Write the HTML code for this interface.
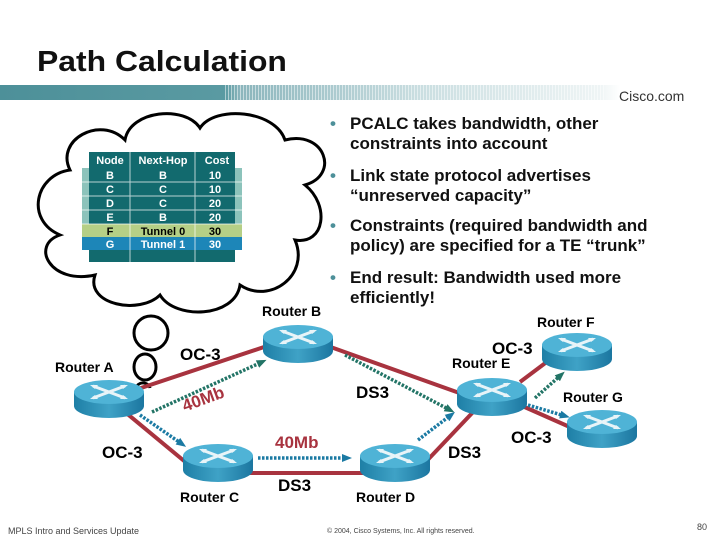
<!DOCTYPE html>
<html><head><style>
body{margin:0;width:720px;height:540px;overflow:hidden;background:#fff;font-family:"Liberation Sans",Arial,sans-serif;position:relative}
.t{position:absolute;white-space:nowrap}
.b{font-weight:bold}
</style></head><body>
<div class="t b" style="left:37px;top:46px;font-size:29px;color:#111;transform:scaleX(1.1);transform-origin:0 0">Path Calculation</div>
<div style="position:absolute;left:0;top:85px;width:720px;height:15px;background:linear-gradient(90deg,#4d9099 0,#5a9aa2 225px,rgba(90,150,160,0.7) 240px,rgba(150,190,195,0.5) 420px,rgba(200,220,222,0.3) 600px,#fff 620px)"></div>
<div style="position:absolute;left:225px;top:85px;width:380px;height:15px;background:repeating-linear-gradient(90deg,rgba(255,255,255,0.5) 0 1px,transparent 1px 3px)"></div>
<div class="t" style="left:619px;top:88px;font-size:14px;color:#333">Cisco.com</div>

<svg width="720" height="540" style="position:absolute;left:0;top:0">
<g fill="#fff" stroke="#000" stroke-width="3">
<path d="M70,170 C55,140 100,115 125,140 C130,110 185,105 200,128 C215,105 275,110 285,140 C325,130 340,175 305,185 C330,205 325,245 295,240 C310,275 270,305 240,285 C235,318 175,320 160,295 C140,315 85,305 95,275 C50,285 30,245 60,235 C25,220 35,175 70,170 Z"/>
</g>
<g fill="none" stroke="#000" stroke-width="3">
<ellipse cx="151" cy="333" rx="17" ry="17"/>
<ellipse cx="145" cy="367" rx="11" ry="13"/>
</g>
<path d="M137,386 a7,6 0 0 1 13,2" fill="none" stroke="#000" stroke-width="3"/>
<!-- table -->
<rect x="82" y="168" width="160" height="56" fill="#8cc3bb"/>
<rect x="89" y="152" width="146" height="110" fill="#126a6e"/>
<rect x="82" y="224" width="160" height="13" fill="#b5cf86"/>
<rect x="82" y="237" width="160" height="13" fill="#1d86b8"/>
<g stroke="#fff" stroke-width="1" opacity="0.7">
<line x1="130" y1="152" x2="130" y2="262"/><line x1="195" y1="152" x2="195" y2="262"/>
<line x1="82" y1="182" x2="242" y2="182"/><line x1="82" y1="196" x2="242" y2="196"/><line x1="82" y1="210" x2="242" y2="210"/><line x1="82" y1="224" x2="242" y2="224"/>
</g>
<g font-family="Liberation Sans,Arial,sans-serif" font-size="11" font-weight="bold" fill="#fff" text-anchor="middle">
<text x="110" y="164">Node</text><text x="163" y="164">Next-Hop</text><text x="217" y="164">Cost</text>
<text x="110" y="179">B</text><text x="163" y="179">B</text><text x="215" y="179">10</text>
<text x="110" y="193">C</text><text x="163" y="193">C</text><text x="215" y="193">10</text>
<text x="110" y="207">D</text><text x="163" y="207">C</text><text x="215" y="207">20</text>
<text x="110" y="221">E</text><text x="163" y="221">B</text><text x="215" y="221">20</text>
<text x="110" y="235" fill="#000">F</text><text x="163" y="235" fill="#000">Tunnel 0</text><text x="215" y="235" fill="#000">30</text>
<text x="110" y="248">G</text><text x="163" y="248">Tunnel 1</text><text x="215" y="248">30</text>
</g>
<!-- links -->
<g stroke="#a8333f" stroke-width="4">
<line x1="135" y1="390" x2="270" y2="345"/>
<line x1="125" y1="412" x2="195" y2="470"/>
<line x1="325" y1="345" x2="465" y2="395"/>
<line x1="245" y1="473" x2="365" y2="473"/>
<line x1="420" y1="468" x2="475" y2="410"/>
<line x1="520" y1="382" x2="552" y2="358"/>
<line x1="520" y1="405" x2="572" y2="428"/>
</g>
<defs>
<marker id="mg" markerUnits="userSpaceOnUse" markerWidth="10" markerHeight="10" refX="5" refY="5" orient="auto"><path d="M0,1L10,5L0,9Z" fill="#227466"/></marker>
<marker id="mb" markerUnits="userSpaceOnUse" markerWidth="10" markerHeight="10" refX="5" refY="5" orient="auto"><path d="M0,1L10,5L0,9Z" fill="#1b7aa3"/></marker>
</defs>
<g stroke-width="3.5" stroke-dasharray="2.5 1.5" fill="none">
<line x1="152" y1="412" x2="262" y2="362" stroke="#227466" marker-end="url(#mg)"/>
<line x1="345" y1="355" x2="450" y2="410" stroke="#227466" marker-end="url(#mg)"/>
<line x1="535" y1="398" x2="561" y2="375" stroke="#227466" marker-end="url(#mg)"/>
<line x1="140" y1="415" x2="182" y2="444" stroke="#1b7aa3" marker-end="url(#mb)"/>
<line x1="258" y1="458" x2="347" y2="458" stroke="#1b7aa3" marker-end="url(#mb)"/>
<line x1="418" y1="440" x2="451" y2="415" stroke="#1b7aa3" marker-end="url(#mb)"/>
<line x1="528" y1="405" x2="565" y2="416" stroke="#1b7aa3" marker-end="url(#mb)"/>
</g>
</svg>
<svg width="720" height="540" style="position:absolute;left:0;top:0">
<defs>
<linearGradient id="rg" x1="0" x2="1"><stop offset="0" stop-color="#1e7fa6"/><stop offset="0.5" stop-color="#3fa2c6"/><stop offset="1" stop-color="#1b76a0"/></linearGradient>
<g id="r">
<path d="M-35,0 V14 A35,12 0 0 0 35,14 V0 Z" fill="url(#rg)"/>
<ellipse cx="0" cy="0" rx="35" ry="12" fill="#4fb3d6"/>
<g stroke="#e8f4f8" stroke-width="3" fill="none"><line x1="-16" y1="-6" x2="16" y2="6"/><line x1="-16" y1="6" x2="16" y2="-6"/></g>
<g fill="#e8f4f8"><path d="M-19,-7 l8,0 l-3,4Z"/><path d="M19,7 l-8,0 l3,-4Z"/><path d="M19,-7 l-8,0 l3,4Z"/><path d="M-19,7 l8,0 l-3,-4Z"/></g>
</g>
</defs>
<use href="#r" x="109" y="392"/>
<use href="#r" x="298" y="337"/>
<use href="#r" x="218" y="456"/>
<use href="#r" x="395" y="456"/>
<use href="#r" x="492" y="390"/>
<use href="#r" x="577" y="345"/>
<use href="#r" x="602" y="422"/>
</svg>

<div class="t b" style="left:55px;top:359px;font-size:14px">Router A</div>
<div class="t b" style="left:262px;top:303px;font-size:14px">Router B</div>
<div class="t b" style="left:180px;top:489px;font-size:14px">Router C</div>
<div class="t b" style="left:356px;top:489px;font-size:14px">Router D</div>
<div class="t b" style="left:452px;top:355px;font-size:14px">Router E</div>
<div class="t b" style="left:537px;top:314px;font-size:14px">Router F</div>
<div class="t b" style="left:563px;top:389px;font-size:14px">Router G</div>
<div class="t b" style="left:180px;top:345px;font-size:17px">OC-3</div>
<div class="t b" style="left:102px;top:443px;font-size:17px">OC-3</div>
<div class="t b" style="left:511px;top:428px;font-size:17px">OC-3</div>
<div class="t b" style="left:492px;top:339px;font-size:17px">OC-3</div>
<div class="t b" style="left:356px;top:383px;font-size:17px">DS3</div>
<div class="t b" style="left:278px;top:476px;font-size:17px">DS3</div>
<div class="t b" style="left:448px;top:443px;font-size:17px">DS3</div>
<div class="t b" style="left:275px;top:433px;font-size:17px;color:#a8333f">40Mb</div>
<div class="t b" style="left:183px;top:397px;font-size:17px;color:#a8333f;transform:rotate(-20deg);transform-origin:0 50%">40Mb</div>

<div style="position:absolute;left:330px;top:114px;width:360px;font-size:17px;font-weight:bold;line-height:20px;color:#111">
<div style="position:relative;padding-left:20px;margin-bottom:12px"><span style="position:absolute;left:0;color:#4d9099">•</span>PCALC takes bandwidth, other constraints into account</div>
<div style="position:relative;padding-left:20px;margin-bottom:10px"><span style="position:absolute;left:0;color:#4d9099">•</span>Link state protocol advertises “unreserved capacity”</div>
<div style="position:relative;padding-left:20px;margin-bottom:12px"><span style="position:absolute;left:0;color:#4d9099">•</span>Constraints (required bandwidth and policy) are specified for a TE “trunk”</div>
<div style="position:relative;padding-left:20px"><span style="position:absolute;left:0;color:#4d9099">•</span>End result: Bandwidth used more efficiently!</div>
</div>

<div class="t" style="left:8px;top:526px;font-size:9px;color:#444">MPLS Intro and Services Update</div>
<div class="t" style="left:327px;top:528px;font-size:7px;color:#444">© 2004, Cisco Systems, Inc. All rights reserved.</div>
<div class="t" style="left:697px;top:522px;font-size:9px;color:#444">80</div>
</body></html>
